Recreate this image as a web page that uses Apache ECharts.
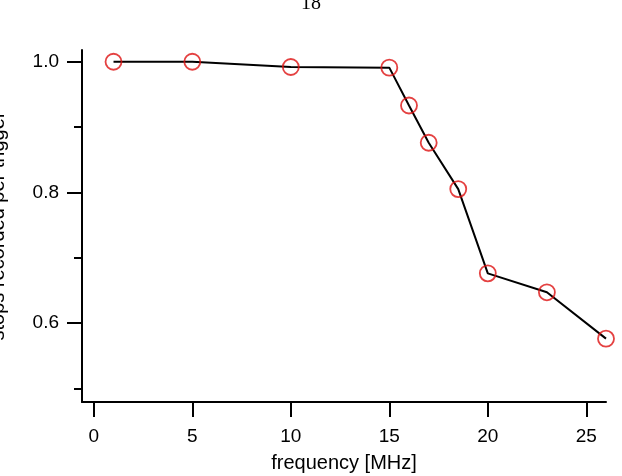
<!DOCTYPE html>
<html>
<head>
    <meta charset="utf-8">
    <title>stops per trigger</title>
    <script src="https://cdn.jsdelivr.net/npm/echarts@6/dist/echarts.min.js"></script>
    <style>
        html, body { margin: 0; padding: 0; background: #fff; }
        #chart1 { width: 622px; height: 476px; }
    </style>
</head>
<body>
<div id="chart1"></div>
<script type="text/javascript">
    // 数据：频率 (MHz) 和 每次触发记录的 stop 数
    let frequency = [1, 5, 10, 15, 16, 17, 18.5, 20, 23, 26];
    let stopsPerTrigger = [1.0, 1.0, 0.992, 0.991, 0.933, 0.876, 0.805, 0.676, 0.647, 0.576];
    let xTicks = [0, 5, 10, 15, 20, 25];
    let yMajorTicks = [0.6, 0.8, 1.0];
    let yMinorTicks = [0.5, 0.7, 0.9];

    let points = frequency.map((f, i) => [f, stopsPerTrigger[i]]);
    let font = 'Liberation Sans, Arial, sans-serif';
    let xRange = { min: -0.6, max: 26 };
    let yRange = { min: 0.479, max: 1.018 };

    // 只画刻度的辅助坐标轴
    function tickAxis(range, position, values, len) {
        return {
            type: 'value',
            position: position,
            offset: 0,
            min: range.min,
            max: range.max,
            axisLine: { show: false, onZero: false },
            axisTick: { show: true, inside: false, customValues: values, length: len, lineStyle: { color: '#000', width: 2 } },
            axisLabel: { show: false },
            splitLine: { show: false }
        };
    }

    let myChart1 = echarts.init(document.getElementById('chart1'));
    myChart1.setOption({
        animation: false,
        title: {
            text: '18',
            left: 'center',
            top: -11,
            textStyle: { fontFamily: 'Liberation Serif, serif', fontSize: 20, fontWeight: 'normal', color: '#000' }
        },
        grid: { left: 82, right: 16, top: 50, bottom: 74, outerBoundsMode: 'none', containLabel: false },
        xAxis: [
            {
                type: 'value',
                position: 'bottom',
                min: xRange.min,
                max: xRange.max,
                name: 'frequency [MHz]',
                nameLocation: 'middle',
                nameGap: 51,
                nameTextStyle: { fontFamily: font, fontSize: 20, color: '#000' },
                axisLine: { onZero: false, lineStyle: { color: '#000', width: 2 } },
                axisTick: { show: false },
                axisLabel: { customValues: xTicks, margin: 25, fontFamily: font, fontSize: 19, color: '#000' },
                splitLine: { show: false }
            },
            tickAxis(xRange, 'bottom', xTicks, 15)
        ],
        yAxis: [
            {
                type: 'value',
                position: 'left',
                min: yRange.min,
                max: yRange.max,
                name: 'stops recorded per trigger',
                nameLocation: 'middle',
                nameGap: 74,
                nameTextStyle: { fontFamily: font, fontSize: 20, color: '#000' },
                axisLine: { onZero: false, lineStyle: { color: '#000', width: 2 } },
                axisTick: { show: false },
                axisLabel: {
                    customValues: yMajorTicks, margin: 23, fontFamily: font, fontSize: 19, color: '#000',
                    formatter: v => v.toFixed(1)
                },
                splitLine: { show: false }
            },
            tickAxis(yRange, 'left', yMajorTicks, 15),
            tickAxis(yRange, 'left', yMinorTicks, 8)
        ],
        series: [
            {
                name: 'line',
                type: 'line',
                data: points,
                showSymbol: false,
                lineStyle: { color: '#000', width: 2 },
                z: 2
            },
            {
                name: 'points',
                type: 'scatter',
                data: points,
                symbol: 'circle',
                symbolSize: 16,
                itemStyle: { color: 'rgba(0,0,0,0)', borderColor: '#dd1111', borderWidth: 1.8 },
                z: 3
            }
        ]
    });
</script>
</body>
</html>
